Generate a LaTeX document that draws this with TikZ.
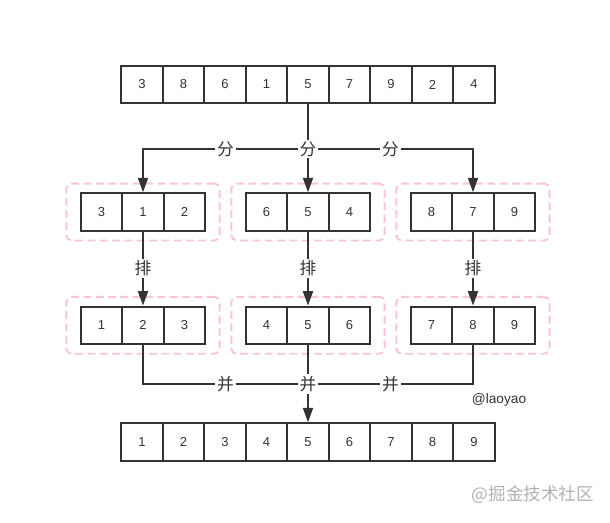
\documentclass[tikz,border=0pt]{standalone}
\usepackage{fontspec}
\setmainfont{Liberation Sans}
\newfontfamily\cjk{Noto Sans CJK SC}
\usetikzlibrary{arrows.meta,fit}
\definecolor{ink}{RGB}{51,51,51}
\definecolor{dashpink}{RGB}{250,196,214}

\begin{document}
\begin{tikzpicture}[x=0.02cm,y=-0.02cm,
    cell/.style={draw=ink,line width=1.1pt,minimum width=0.83cm,minimum height=0.75cm,
      inner sep=0pt,text=ink,font=\fontsize{7.4}{9}\selectfont},
    conn/.style={draw=ink,line width=1.1pt},
    tip/.style={-{Triangle[length=0.29cm,width=0.2cm]}},
    lbl/.style={fill=white,inner sep=1pt,text=ink,font=\cjk\fontsize{9.5}{10}\selectfont},
    group/.style={draw=dashpink,dash pattern=on 4.5pt off 2.5pt,line width=1.1pt,
      rounded corners=3pt,inner xsep=0.27cm,inner ysep=0.175cm}]
        \useasboundingbox (0,0) rectangle (610,522);

        % input and output arrays
        \foreach[count=\i] \v in {3,8,6,1,5,7,9,2,4} {
          \node[cell] (top-\i) at ({308+41.5*(\i-5)},84.5) {\v};
        }
        \foreach \i in {1,...,9} {
          \node[cell] (bot-\i) at ({308+41.5*(\i-5)},442) {\i};
        }

        % split and sorted groups
        \foreach \g/\cx/\a/\b/\c/\p/\q/\r in {1/143/3/1/2/1/2/3, 2/308/6/5/4/4/5/6, 3/473/8/7/9/7/8/9} {
          \node[cell] (g\g-1) at ({\cx-41.5},212) {\a};
          \node[cell] (g\g-2) at (\cx,212) {\b};
          \node[cell] (g\g-3) at ({\cx+41.5},212) {\c};
          \node[group,fit=(g\g-1)(g\g-3)] (box-g\g) {};
          \node[cell] (s\g-1) at ({\cx-41.5},325.3) {\p};
          \node[cell] (s\g-2) at (\cx,325.3) {\q};
          \node[cell] (s\g-3) at ({\cx+41.5},325.3) {\r};
          \node[group,fit=(s\g-1)(s\g-3)] (box-s\g) {};
        }

        % split
        \coordinate (split) at (308,149);
        \draw[conn] (top-5.south) -- (split);
        \draw[conn,tip] (split) -| node[lbl,pos=0.25] (fen-1) {分} (g1-2.north);
        \draw[conn,tip] (split) -- (g2-2.north);
        \draw[conn,tip] (split) -| node[lbl,pos=0.25] (fen-3) {分} (g3-2.north);
        \node[lbl] (fen-2) at (split) {分};

        % sort
        \foreach \g in {1,2,3} {
          \draw[conn,tip] (g\g-2.south) -- node[lbl] (pai-\g) {排} (s\g-2.north);
        }

        % merge
        \coordinate (join) at (308,384);
        \draw[conn] (s1-2.south) |- node[lbl,pos=0.75] (bing-1) {并} (join);
        \draw[conn] (s3-2.south) |- node[lbl,pos=0.75] (bing-3) {并} (join);
        \draw[conn,tip] (s2-2.south) -- (bot-5.north);
        \node[lbl] (bing-2) at (join) {并};

        \node[text=ink,font=\fontsize{7.8}{9}\selectfont] (credit) at (499,400) {@laoyao};
        \node[text=gray!60,font=\cjk\fontsize{10}{11}\selectfont] (mark) at (533,495) {@掘金技术社区};
      \end{tikzpicture}
\end{document}
